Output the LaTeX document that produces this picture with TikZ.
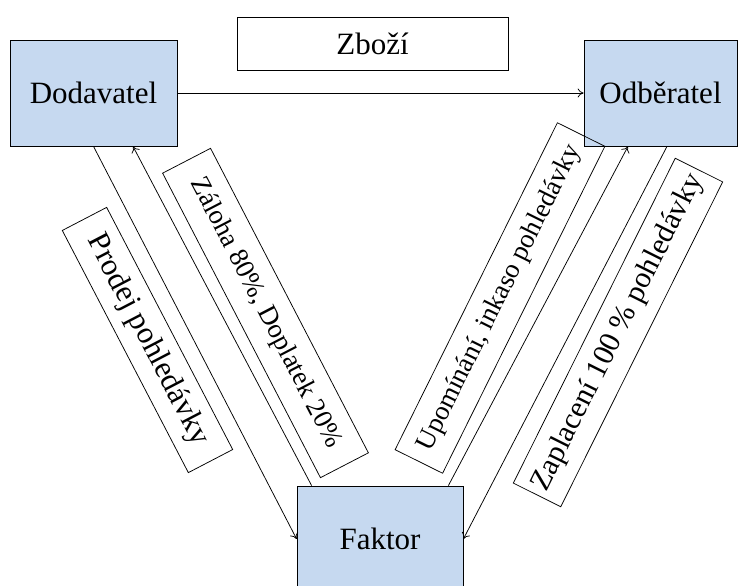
\documentclass[tikz,border=0pt]{standalone}
\usepackage{fontspec}
\setmainfont{Liberation Serif}
\usepackage{tikz}
\usetikzlibrary{positioning,arrows.meta}
\definecolor{partyblue}{RGB}{198,217,240}
\newcommand{\fsz}[1]{\fontsize{#1}{#1}\selectfont}

\begin{document}
\begin{tikzpicture}[x=1pt,y=-1pt,line width=0.75pt,
    party/.style={draw,fill=partyblue,minimum width=167pt,minimum height=106pt,inner sep=0pt,font=\fsz{31}},
    flowlabel/.style={draw,inner sep=0pt,minimum height=53pt},
    flow/.style={-{To[length=6pt,width=9pt]}}]
  \clip (0,0) rectangle (742,586);
  \node[party] (dod) at (93.5,93) {Dodavatel};
  \node[party,minimum width=153pt] (odb) at (660.5,93) {Odběratel};
  \node[party,minimum width=166pt] (fak) at (380,539) {Faktor};
  \node[draw,minimum width=271pt,minimum height=53pt,inner sep=0pt,font=\fsz{31}] (zbozi) at (372.5,43.5) {Zboží};
  \node[flowlabel,rotate=-62.5,minimum width=273pt,minimum height=50pt,font=\fsz{31}] (prodej) at (147.5,340) {Prodej pohledávky};
  \node[flowlabel,rotate=-62.6,minimum width=343pt,minimum height=54pt,font=\fsz{27}] (zaloha) at (265.5,313) {Záloha 80\%, Doplatek 20\%};
  \node[flowlabel,rotate=63.6,minimum width=365pt,font=\fsz{27}] (upom) at (500,298) {Upomínání, inkaso pohledávky};
  \node[flowlabel,rotate=63.5,minimum width=363pt,font=\fsz{30}] (zapl) at (618,332.5) {Zaplacení 100 \% pohledávky};
  \draw[flow] (dod.east) -- (odb.west);
  \draw[flow] (dod.south) -- (fak.west);
  \draw[flow] ([xshift=15pt]fak.north west) -- ([xshift=39.5pt]dod.south);
  \draw[flow] ([xshift=-15pt]fak.north east) -- ([xshift=-32.5pt]odb.south);
  \draw[flow] ([xshift=6.5pt]odb.south) -- (fak.east);
\end{tikzpicture}
\end{document}
